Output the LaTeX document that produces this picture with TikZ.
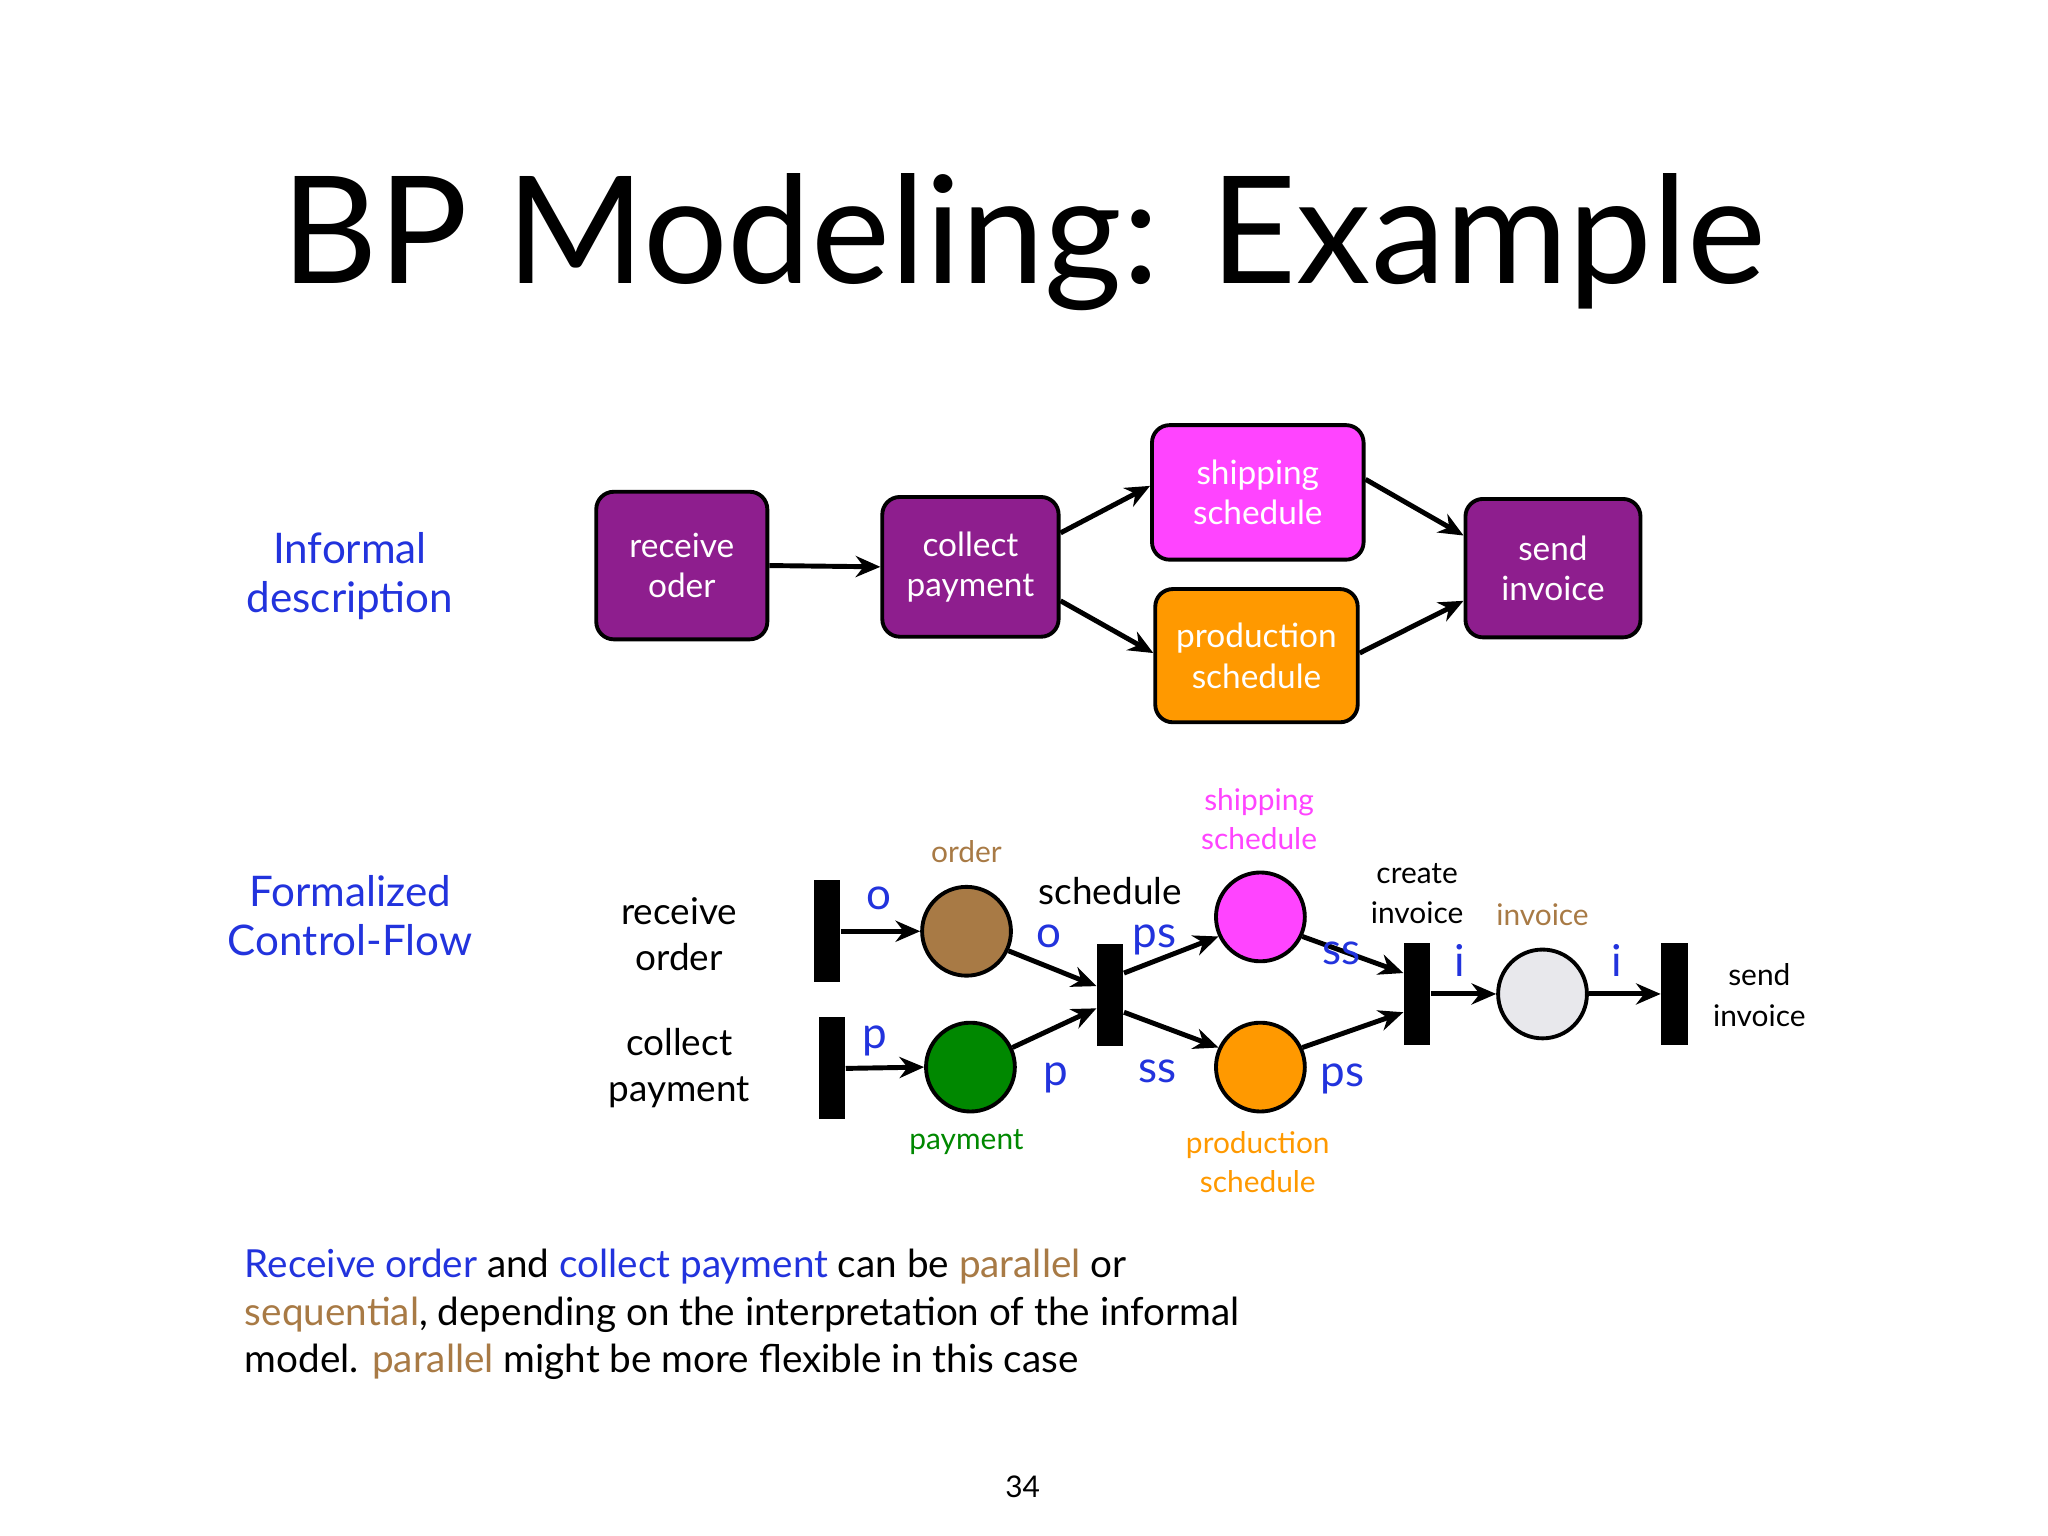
\documentclass[tikz,border=0pt]{standalone}
\usepackage{fontspec}
\setmainfont{Lato}
\usetikzlibrary{arrows.meta,calc}
\definecolor{pur}{HTML}{8E1E8E}
\definecolor{mag}{HTML}{FF44FF}
\definecolor{org}{HTML}{FF9900}
\definecolor{blu}{HTML}{2233DD}
\definecolor{brn}{HTML}{A87A45}
\definecolor{grn}{HTML}{008800}
\definecolor{lgr}{HTML}{E8E8EC}
\begin{document}
\begin{tikzpicture}[x=0.01306cm,y=-0.01306cm,
  box/.style={draw=black,line width=1.1pt,rounded corners=5pt,text=white,align=center,font=\fontsize{9.5}{11.5}\selectfont,inner sep=0pt},
  pl/.style={circle,draw=black,line width=1.1pt,minimum size=68*0.01306cm,inner sep=0pt},
  bar/.style={rectangle,fill=black,inner sep=0pt,minimum width=20*0.01306cm,minimum height=78*0.01306cm},
  arr/.style={line width=1.4pt,-{Stealth[length=7pt,width=6pt]}},
  lab/.style={text=blu,font=\fontsize{12.5}{14}\selectfont},
  txt/.style={align=center,font=\fontsize{10.5}{13}\selectfont}]
\useasboundingbox (0,0) rectangle (1568,1176);
\node[font=\fontsize{42.5}{46}\selectfont] (title) at (784,185) {BP Modeling: Example};
\node[txt,text=blu,font=\fontsize{12}{14}\selectfont] (inf) at (268,441) {Informal\\description};
\node[txt,text=blu,font=\fontsize{12}{14}\selectfont] (form) at (268,701) {Formalized\\Control-Flow};
% informal
\node[box,fill=pur,minimum width=131*0.01306cm,minimum height=113*0.01306cm] (ro) at (522,433) {receive\\oder};
\node[box,fill=pur,minimum width=135*0.01306cm,minimum height=107*0.01306cm] (cp) at (743,434) {collect\\payment};
\node[box,fill=mag,minimum width=162*0.01306cm,minimum height=103*0.01306cm] (ss) at (963,377) {shipping\\schedule};
\node[box,fill=org,minimum width=155*0.01306cm,minimum height=102*0.01306cm] (ps) at (962,502) {production\\schedule};
\node[box,fill=pur,minimum width=134*0.01306cm,minimum height=106*0.01306cm] (si) at (1189,435) {send\\invoice};
\draw[arr] (ro.east) -- (cp.west);
\draw[arr] (cp.east|-0,408) -- (ss.west|-0,372);
\draw[arr] (cp.east|-0,460) -- (ps.west|-0,500);
\draw[arr] (ss.east|-0,367) -- (si.west|-0,410);
\draw[arr] (ps.east|-0,500) -- (si.west|-0,460);
% formal
\node[bar] (t1) at (633,713) {};
\node[bar] (t2) at (637,818) {};
\node[bar] (t3) at (850,762) {};
\node[bar] (t4) at (1085,761) {};
\node[bar] (t5) at (1282,761) {};
\node[pl,fill=brn] (po) at (740,713) {};
\node[pl,fill=grn] (pp) at (743,817) {};
\node[pl,fill=mag] (pss) at (965,702) {};
\node[pl,fill=org] (pps) at (965,817) {};
\node[pl,fill=lgr] (pi) at (1181,761) {};
\draw[arr] (t1.east) -- (po.west);
\draw[arr] (t2.east) -- (pp.west);
\draw[arr] (po.-25) -- ($(t3.west)+(0,-7)$);
\draw[arr] (pp.25) -- ($(t3.west)+(0,10)$);
\draw[arr] ($(t3.east)+(0,-17)$) -- (pss.205);
\draw[arr] ($(t3.east)+(0,13)$) -- (pps.155);
\draw[arr] (pss.-25) -- ($(t4.west)+(0,-16)$);
\draw[arr] (pps.25) -- ($(t4.west)+(0,14)$);
\draw[arr] (t4.east) -- (pi.west);
\draw[arr] (pi.east) -- (t5.west);
\node[lab] (l1) at (673,688) {o};
\node[lab] (l2) at (803,717) {o};
\node[lab] (l3) at (884,720) {ps};
\node[lab] (l4) at (670,797) {p};
\node[lab] (l5) at (808,825) {p};
\node[lab] (l6) at (886,820) {ss};
\node[lab] (l7) at (1027,730) {ss};
\node[lab] (l8) at (1028,826) {ps};
\node[lab] (l9) at (1118,735) {i};
\node[lab] (l10) at (1238,735) {i};
\node[txt] (n1) at (520,715) {receive\\order};
\node[txt] (n2) at (520,818) {collect\\payment};
\node[txt,text=brn,font=\fontsize{8.5}{10}\selectfont] (n3) at (740,652) {order};
\node[txt] (n4) at (850,682) {schedule};
\node[txt,text=mag,font=\fontsize{8.5}{11}\selectfont] (n5) at (964,627) {shipping\\schedule};
\node[txt,font=\fontsize{8.5}{11.5}\selectfont] (n6) at (1085,684) {create\\invoice};
\node[txt,text=brn,font=\fontsize{8.5}{10}\selectfont] (n7) at (1181,700) {invoice};
\node[txt,font=\fontsize{8.5}{11.5}\selectfont] (n8) at (1347,762) {send\\invoice};
\node[txt,text=grn,font=\fontsize{8.5}{10}\selectfont] (n9) at (740,874) {payment};
\node[txt,text=org,font=\fontsize{8.5}{11}\selectfont] (n10) at (963,890) {production\\schedule};
% paragraph
\begin{scope}[every node/.style={anchor=west,inner sep=0pt,font=\fontsize{11}{13}\selectfont}]
\node (p1) at (187,970) {\textcolor{blu}{Receive order} and \textcolor{blu}{collect payment} can be \textcolor{brn}{parallel} or};
\node (p2) at (187,1007) {\textcolor{brn}{sequential}, depending on the interpretation of the informal};
\node (p3) at (187,1043) {model. \textcolor{brn}{parallel} might be more flexible in this case};
\end{scope}
\node[font=\fontsize{8.5}{10}\selectfont] (pg) at (783,1138) {34};
\end{tikzpicture}
\end{document}
